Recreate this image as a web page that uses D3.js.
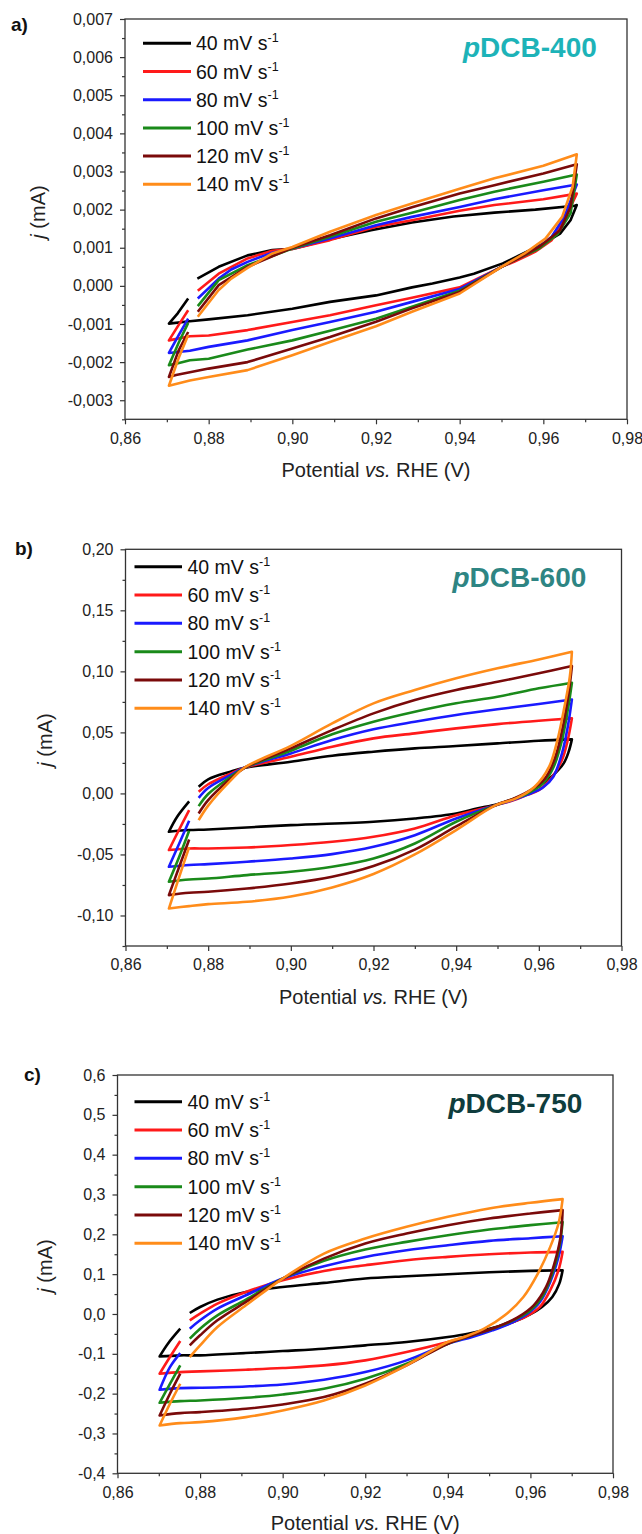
<!DOCTYPE html>
<html><head><meta charset="utf-8">
<script src="https://cdn.jsdelivr.net/npm/d3@7"></script>
<style>
body{margin:0;background:#fff}
svg{display:block}
text{font-family:"Liberation Sans",Arial,sans-serif}
</style>
</head><body>
<svg id="chart" width="642" height="1534"></svg>
<script>
// ---------------- DATA ----------------
const speeds = ["40", "60", "80", "100", "120", "140"];
const seriesColors = ["#000000", "#ff1a1a", "#1a1aff", "#1a8a1a", "#7a0a0a", "#ff8c1a"];
const xTicks = [0.86, 0.88, 0.90, 0.92, 0.94, 0.96, 0.98];
const panelLetters = ["a)", "b)", "c)"];
const sampleNames = ["DCB-400", "DCB-600", "DCB-750"];
const sampleColors = ["#1db3b8", "#2e8583", "#0f3d3d"];
const yTicksA = [-0.003, -0.002, -0.001, 0, 0.001, 0.002, 0.003, 0.004, 0.005, 0.006, 0.007];
const yTicksB = [-0.10, -0.05, 0, 0.05, 0.10, 0.15, 0.20];
const yTicksC = [-0.4, -0.3, -0.2, -0.1, 0, 0.1, 0.2, 0.3, 0.4, 0.5, 0.6];

// panel a) pDCB-400 : [potential V, current mA]
const a40 = [[0.8773,0.00019],[0.8824,0.0005],[0.8893,0.0008],[0.8952,0.00094],[0.90,0.00097],[0.909,0.00122],[0.9188,0.00146],[0.9286,0.00166],[0.9385,0.00182],[0.9483,0.00192],[0.9581,0.002],[0.9675,0.0021],[0.968,0.00212],
  [0.9665,0.00172],[0.964,0.00137],[0.96,0.00111],[0.9552,0.00085],[0.9503,0.00059],[0.9434,0.00032],[0.94,0.00022],[0.9335,0.00006],[0.9286,-0.00004],[0.92,-0.00025],[0.909,-0.00042],[0.90,-0.0006],[0.8893,-0.00077],[0.88,-0.00088],[0.8755,-0.00093],[0.8705,-0.00099],
  [0.8726,-0.00072],[0.8751,-0.00033]];
const a60 = [[0.8774,-0.00013],[0.8824,0.00032],[0.8893,0.00072],[0.8952,0.00092],[0.90,0.00097],[0.909,0.0012],[0.92,0.00155],[0.9286,0.00172],[0.94,0.00197],[0.9483,0.00212],[0.96,0.00227],[0.968,0.00242],
  [0.965,0.00172],[0.962,0.0012],[0.958,0.00089],[0.953,0.00063],[0.95,0.0005],[0.94,-0.00004],[0.9286,-0.00031],[0.92,-0.00051],[0.909,-0.00077],[0.90,-0.00095],[0.8893,-0.00116],[0.88,-0.0013],[0.8755,-0.00132],[0.8705,-0.00143],
  [0.8728,-0.00103],[0.8751,-0.00064]];
const a80 = [[0.8774,-0.00033],[0.8824,0.00019],[0.8854,0.00043],[0.8893,0.00063],[0.8952,0.00087],[0.90,0.00098],[0.909,0.00124],[0.92,0.00159],[0.9286,0.00181],[0.94,0.00207],[0.9483,0.00227],[0.96,0.00251],[0.968,0.00266],
  [0.965,0.00181],[0.962,0.00129],[0.958,0.00094],[0.953,0.00067],[0.95,0.0005],[0.94,-0.00008],[0.9286,-0.00042],[0.92,-0.00068],[0.909,-0.00095],[0.90,-0.00116],[0.8893,-0.00143],[0.88,-0.0016],[0.8755,-0.0017],[0.8705,-0.00176],
  [0.8728,-0.0013],[0.8751,-0.00086]];
const a100 = [[0.8774,-0.00053],[0.8824,0.00015],[0.8893,0.00054],[0.90,0.00098],[0.909,0.00129],[0.92,0.00168],[0.9286,0.00192],[0.94,0.00225],[0.9483,0.00247],[0.96,0.00273],[0.968,0.00292],
  [0.9665,0.0019],[0.9635,0.00137],[0.959,0.00098],[0.954,0.00072],[0.95,0.0005],[0.94,-0.00013],[0.9286,-0.00055],[0.92,-0.00086],[0.909,-0.00118],[0.90,-0.00143],[0.8893,-0.00167],[0.88,-0.00191],[0.8755,-0.00195],[0.8722,-0.00204],[0.8705,-0.00208],
  [0.8728,-0.0015],[0.8751,-0.00097]];
const a120 = [[0.8774,-0.00068],[0.8824,0.00002],[0.8893,0.0005],[0.90,0.001],[0.909,0.00133],[0.92,0.00177],[0.9286,0.00206],[0.94,0.00242],[0.9483,0.00264],[0.96,0.00295],[0.968,0.00319],
  [0.9665,0.00207],[0.964,0.00146],[0.959,0.00102],[0.954,0.00072],[0.95,0.0005],[0.94,-0.00016],[0.9286,-0.00059],[0.92,-0.00094],[0.909,-0.00134],[0.90,-0.00164],[0.8893,-0.002],[0.88,-0.00217],[0.8722,-0.00234],[0.8705,-0.00239],
  [0.8728,-0.0017],[0.8751,-0.00121]];
const a140 = [[0.8774,-0.00081],[0.8824,-0.00011],[0.8854,0.00019],[0.8893,0.00047],[0.8952,0.00085],[0.90,0.00102],[0.909,0.00142],[0.92,0.00186],[0.9286,0.00216],[0.94,0.00255],[0.9483,0.00282],[0.96,0.00315],[0.968,0.00345],
  [0.967,0.0026],[0.9645,0.00181],[0.9605,0.00124],[0.9555,0.00085],[0.95,0.0005],[0.94,-0.0002],[0.9286,-0.00068],[0.92,-0.00106],[0.909,-0.00147],[0.90,-0.00182],[0.8893,-0.00221],[0.88,-0.00239],[0.8755,-0.00248],[0.8705,-0.00262],
  [0.8728,-0.0019],[0.8751,-0.00129]];

// panel b) pDCB-600
const b40 = [[0.8777,0.0055],[0.88,0.0115],[0.8854,0.0178],[0.8888,0.021],[0.90,0.026],[0.91,0.0309],[0.92,0.0342],[0.93,0.0369],[0.94,0.0388],[0.95,0.041],[0.96,0.0432],[0.968,0.0443],
  [0.9672,0.034],[0.966,0.0246],[0.9635,0.015],[0.962,0.0109],[0.958,0.0014],[0.954,-0.0046],[0.9497,-0.009],[0.945,-0.0123],[0.94,-0.0164],[0.93,-0.0205],[0.92,-0.0232],[0.90,-0.026],[0.88,-0.0295],[0.8754,-0.030],[0.8705,-0.0314],
  [0.8725,-0.0191],[0.8754,-0.0065]];
const b60 = [[0.8777,0.0014],[0.88,0.0075],[0.8854,0.0162],[0.8888,0.021],[0.90,0.030],[0.91,0.0383],[0.92,0.0451],[0.93,0.0492],[0.94,0.0533],[0.95,0.0568],[0.96,0.0596],[0.968,0.0615],
  [0.967,0.0437],[0.9656,0.0273],[0.963,0.0123],[0.96,0.0027],[0.957,-0.0014],[0.954,-0.0055],[0.9496,-0.0096],[0.94,-0.0178],[0.93,-0.0287],[0.92,-0.0355],[0.91,-0.0396],[0.90,-0.0423],[0.8894,-0.0443],[0.88,-0.0451],[0.8754,-0.0451],[0.8705,-0.0464],
  [0.8725,-0.0328],[0.8754,-0.0137]];
const b80 = [[0.8777,-0.0036],[0.88,0.0045],[0.8854,0.015],[0.8888,0.0212],[0.90,0.0328],[0.91,0.0437],[0.92,0.0525],[0.93,0.0587],[0.94,0.0642],[0.95,0.0689],[0.96,0.0732],[0.968,0.077],
  [0.967,0.0546],[0.9656,0.0328],[0.9635,0.0137],[0.961,0.0049],[0.957,-0.0014],[0.953,-0.0063],[0.9496,-0.0096],[0.94,-0.0205],[0.93,-0.0342],[0.92,-0.0437],[0.91,-0.0497],[0.90,-0.0533],[0.8894,-0.056],[0.88,-0.0579],[0.8754,-0.0587],[0.8705,-0.0601],
  [0.873,-0.041],[0.8754,-0.0224]];
const b100 = [[0.8777,-0.0104],[0.88,-0.0005],[0.8854,0.0135],[0.8888,0.021],[0.90,0.035],[0.91,0.0484],[0.92,0.0587],[0.93,0.0669],[0.94,0.0738],[0.95,0.0792],[0.96,0.0861],[0.968,0.0907],
  [0.967,0.0683],[0.9656,0.0437],[0.9636,0.0219],[0.961,0.0082],[0.957,-0.0005],[0.953,-0.0055],[0.9496,-0.0096],[0.94,-0.0232],[0.93,-0.041],[0.92,-0.0533],[0.91,-0.0601],[0.90,-0.0642],[0.8894,-0.0669],[0.88,-0.0697],[0.8754,-0.0705],[0.8705,-0.0724],
  [0.873,-0.0519],[0.8754,-0.0306]];
const b120 = [[0.8777,-0.0164],[0.88,-0.0055],[0.8854,0.012],[0.8888,0.021],[0.90,0.0369],[0.91,0.0519],[0.92,0.0656],[0.93,0.0765],[0.94,0.0847],[0.95,0.0915],[0.96,0.0984],[0.968,0.1044],
  [0.9672,0.082],[0.9658,0.0546],[0.964,0.030],[0.9615,0.0123],[0.958,0.0027],[0.954,-0.0041],[0.9496,-0.0096],[0.94,-0.027],[0.93,-0.046],[0.92,-0.0595],[0.91,-0.0683],[0.90,-0.0738],[0.8894,-0.0779],[0.88,-0.0806],[0.8754,-0.0814],[0.8705,-0.0833],
  [0.873,-0.0601],[0.8754,-0.0377]];
const b140 = [[0.8777,-0.0219],[0.88,-0.010],[0.8854,0.0105],[0.8888,0.0212],[0.90,0.039],[0.91,0.0574],[0.92,0.0738],[0.93,0.0847],[0.94,0.0943],[0.95,0.1025],[0.96,0.1098],[0.968,0.1161],
  [0.9675,0.0956],[0.9662,0.071],[0.9645,0.0437],[0.9625,0.0219],[0.959,0.0055],[0.9545,-0.0041],[0.9496,-0.0096],[0.94,-0.030],[0.93,-0.050],[0.92,-0.066],[0.91,-0.077],[0.90,-0.0845],[0.8894,-0.0888],[0.88,-0.0907],[0.8754,-0.0923],[0.8705,-0.0943],
  [0.873,-0.0683],[0.8754,-0.044]];

// panel c) pDCB-750
const c40 = [[0.8775,0.0025],[0.88,0.0176],[0.8842,0.036],[0.8911,0.0553],[0.90,0.0679],[0.91,0.078],[0.92,0.0889],[0.93,0.0947],[0.94,0.0997],[0.95,0.1048],[0.96,0.1081],[0.9678,0.1098],
  [0.967,0.0763],[0.9653,0.0427],[0.9628,0.0176],[0.9598,-0.0017],[0.9558,-0.0201],[0.9508,-0.0352],[0.9449,-0.0495],[0.94,-0.0578],[0.93,-0.0704],[0.92,-0.0788],[0.91,-0.0872],[0.90,-0.093],[0.8911,-0.0981],[0.88,-0.1039],[0.8752,-0.1039],[0.8702,-0.1065],
  [0.8722,-0.0746],[0.8752,-0.0369]];
const c60 = [[0.8775,-0.0159],[0.88,0.0008],[0.8842,0.026],[0.8911,0.0553],[0.90,0.0847],[0.91,0.1081],[0.92,0.1224],[0.93,0.135],[0.94,0.1433],[0.95,0.15],[0.96,0.1542],[0.9678,0.1559],
  [0.9668,0.1098],[0.9648,0.0595],[0.9623,0.0176],[0.9588,-0.0075],[0.9548,-0.0243],[0.9498,-0.0411],[0.9449,-0.0562],[0.94,-0.0704],[0.93,-0.0956],[0.92,-0.1165],[0.91,-0.1291],[0.90,-0.1358],[0.8911,-0.14],[0.88,-0.1442],[0.8752,-0.1459],[0.8702,-0.15],
  [0.8727,-0.1081],[0.8752,-0.0679]];
const c80 = [[0.8775,-0.0369],[0.88,-0.0159],[0.8842,0.0134],[0.8911,0.0469],[0.90,0.0889],[0.91,0.1199],[0.92,0.1433],[0.93,0.1601],[0.94,0.1727],[0.95,0.1836],[0.96,0.1903],[0.9678,0.1953],
  [0.9668,0.1433],[0.9648,0.0805],[0.9623,0.0302],[0.9593,0.0008],[0.9553,-0.0226],[0.9508,-0.0411],[0.9459,-0.0578],[0.94,-0.0746],[0.93,-0.1165],[0.92,-0.1459],[0.91,-0.1651],[0.90,-0.1769],[0.8911,-0.1819],[0.88,-0.1852],[0.8752,-0.1861],[0.8702,-0.1903],
  [0.8727,-0.1333],[0.8752,-0.0981]];
const c100 = [[0.8775,-0.062],[0.88,-0.0369],[0.8842,-0.0034],[0.8911,0.036],[0.90,0.0889],[0.91,0.1333],[0.92,0.1618],[0.93,0.1811],[0.94,0.1978],[0.95,0.2121],[0.96,0.223],[0.9678,0.2305],
  [0.967,0.1685],[0.9653,0.1014],[0.9628,0.0427],[0.9598,0.0075],[0.9558,-0.0159],[0.9508,-0.0369],[0.9459,-0.0536],[0.94,-0.0746],[0.93,-0.1249],[0.92,-0.1626],[0.91,-0.1878],[0.90,-0.202],[0.8911,-0.2104],[0.88,-0.2171],[0.8752,-0.2188],[0.8702,-0.223],
  [0.8727,-0.1752],[0.8752,-0.1291]];
const c120 = [[0.8775,-0.0788],[0.88,-0.0536],[0.8842,-0.0159],[0.8911,0.0302],[0.90,0.0889],[0.91,0.1391],[0.92,0.1769],[0.93,0.202],[0.94,0.223],[0.95,0.2397],[0.96,0.2523],[0.9678,0.2607],
  [0.9673,0.1936],[0.9658,0.1266],[0.9638,0.0679],[0.9608,0.0218],[0.9568,-0.0092],[0.9518,-0.0327],[0.9459,-0.0536],[0.94,-0.0746],[0.93,-0.1291],[0.92,-0.1752],[0.91,-0.2087],[0.90,-0.2272],[0.8911,-0.2381],[0.88,-0.2464],[0.8752,-0.249],[0.8702,-0.2548],
  [0.8727,-0.2003],[0.8752,-0.15]];
const c140 = [[0.8775,-0.1081],[0.88,-0.0788],[0.8842,-0.0327],[0.8911,0.0218],[0.90,0.0889],[0.91,0.1517],[0.92,0.1894],[0.93,0.2188],[0.94,0.2439],[0.95,0.2649],[0.96,0.2791],[0.9678,0.2884],
  [0.9668,0.2272],[0.9648,0.1685],[0.9618,0.1014],[0.9583,0.0427],[0.9538,-0.0034],[0.9488,-0.0369],[0.9439,-0.0578],[0.94,-0.0704],[0.93,-0.1291],[0.92,-0.1794],[0.91,-0.2171],[0.90,-0.2422],[0.8911,-0.259],[0.88,-0.2716],[0.8752,-0.2741],[0.8702,-0.28],
  [0.8727,-0.2255],[0.8752,-0.1752]];

// ---------------- LAYOUT ----------------
const panels = [
  {series:[a40,a60,a80,a100,a120,a140], yDomain:[-0.0035,0.007], yTicks:yTicksA, yMinorStep:0.0005, yFmt:".3f",
   left:125, right:627, top:19, bottom:419.3, smooth:false,
   letter:{x:11, y:31}, name:{x:463, y:56.5}, legend:{x0:143, x1:191, tx:196, y0:43.3, dy:28.2},
   xTitleY:477, yTitle:{x:45, y:212}},
  {series:[b40,b60,b80,b100,b120,b140], yDomain:[-0.125,0.2], yTicks:yTicksB, yMinorStep:0.025, yFmt:".2f",
   left:125.5, right:621.5, top:549.3, bottom:946, smooth:true,
   letter:{x:15, y:555}, name:{x:452.5, y:587}, legend:{x0:134.5, x1:182, tx:187.5, y0:566.7, dy:28.33},
   xTitleY:1004, yTitle:{x:52, y:740}},
  {series:[c40,c60,c80,c100,c120,c140], yDomain:[-0.4,0.6], yTicks:yTicksC, yMinorStep:0.05, yFmt:".1f",
   left:117.5, right:613, top:1075, bottom:1473.3, smooth:true,
   letter:{x:24, y:1081}, name:{x:448.5, y:1112.5}, legend:{x0:134.5, x1:182, tx:187.5, y0:1101.7, dy:28.33},
   xTitleY:1530, yTitle:{x:52, y:1266}}
];

const locale = d3.formatLocale({decimal:",", thousands:".", grouping:[3], currency:["",""], minus:"-"});
const svg = d3.select("#chart");
const axisColor = "#333";
const FONT = '"Liberation Sans",Arial,sans-serif';

// split a sweep at its two vertices so that smoothing keeps sharp corners
function sweepPath(data, line) {
  let iMax = d3.maxIndex(data, d => d[0]);
  let iMin = iMax + d3.minIndex(data.slice(iMax), d => d[0]);
  const parts = [data.slice(0, iMax + 1), data.slice(iMax, iMin + 1), data.slice(iMin)];
  return parts.map((pt, k) => {
    const d = line(pt);
    return k === 0 ? d : "L" + d.slice(1);
  }).join("");
}

panels.forEach((p, pi) => {
  const g = svg.append("g");
  const x = d3.scaleLinear().domain([0.86, 0.98]).range([p.left, p.right]);
  const y = d3.scaleLinear().domain(p.yDomain).range([p.bottom, p.top]);
  const xf = locale.format(".2f"), yf = locale.format(p.yFmt);

  // minor ticks
  const xMinor = d3.range(0.87, 0.98, 0.02);
  const yMinor = d3.range(Math.ceil(p.yDomain[0]/p.yMinorStep), Math.floor(p.yDomain[1]/p.yMinorStep)+1)
      .map(k => k*p.yMinorStep).filter(v => !p.yTicks.some(t => Math.abs(t-v) < p.yMinorStep/4));
  g.append("g").attr("transform", `translate(0,${p.bottom})`)
    .call(d3.axisBottom(x).tickValues(xMinor).tickSize(3).tickFormat(""))
    .call(s => { s.select(".domain").remove(); s.selectAll("line").attr("stroke", axisColor).attr("stroke-width", 1.2); });
  g.append("g").attr("transform", `translate(${p.left},0)`)
    .call(d3.axisLeft(y).tickValues(yMinor).tickSize(3).tickFormat(""))
    .call(s => { s.select(".domain").remove(); s.selectAll("line").attr("stroke", axisColor).attr("stroke-width", 1.2); });

  // major ticks
  g.append("g").attr("transform", `translate(0,${p.bottom})`)
    .call(d3.axisBottom(x).tickValues(xTicks).tickSize(5).tickPadding(8).tickFormat(xf))
    .call(s => { s.select(".domain").remove();
      s.selectAll("line").attr("stroke", axisColor).attr("stroke-width", 1.2);
      s.selectAll("text").attr("font-size", 16).attr("fill", "#222").attr("font-family", FONT); });
  g.append("g").attr("transform", `translate(${p.left},0)`)
    .call(d3.axisLeft(y).tickValues(p.yTicks).tickSize(5).tickPadding(7).tickFormat(yf))
    .call(s => { s.select(".domain").remove();
      s.selectAll("line").attr("stroke", axisColor).attr("stroke-width", 1.2);
      s.selectAll("text").attr("font-size", 16).attr("fill", "#222").attr("font-family", FONT); });

  // frame
  g.append("rect").attr("x", p.left).attr("y", p.top)
    .attr("width", p.right - p.left).attr("height", p.bottom - p.top)
    .attr("fill", "none").attr("stroke", axisColor).attr("stroke-width", 1.3);

  // curves
  const line = d3.line().x(d => x(d[0])).y(d => y(d[1]))
    .curve(p.smooth ? d3.curveCatmullRom.alpha(0.5) : d3.curveLinear);
  p.series.forEach((data, si) => {
    g.append("path").attr("d", sweepPath(data, line))
      .attr("fill", "none").attr("stroke", seriesColors[si])
      .attr("stroke-width", 2.6).attr("stroke-linejoin", "round").attr("stroke-linecap", "butt");
  });

  // legend
  speeds.forEach((s, si) => {
    const ly = p.legend.y0 + si * p.legend.dy;
    g.append("line").attr("x1", p.legend.x0).attr("x2", p.legend.x1).attr("y1", ly).attr("y2", ly)
      .attr("stroke", seriesColors[si]).attr("stroke-width", 3);
    const t = g.append("text").attr("x", p.legend.tx).attr("y", ly + 7)
      .attr("font-size", 19.5).attr("fill", "#111");
    t.append("tspan").text(s + " mV s");
    t.append("tspan").attr("dy", -8).attr("font-size", 12.5).text("-1");
  });

  // sample name
  const nm = g.append("text").attr("x", p.name.x).attr("y", p.name.y)
    .attr("font-size", 28).attr("font-weight", "bold").attr("fill", sampleColors[pi]);
  nm.append("tspan").attr("font-style", "italic").text("p");
  nm.append("tspan").text(sampleNames[pi]);

  // panel letter
  g.append("text").attr("x", p.letter.x).attr("y", p.letter.y)
    .attr("font-size", 19).attr("font-weight", "bold").attr("fill", "#111").text(panelLetters[pi]);

  // x title
  const xt = g.append("text").attr("x", (p.left + p.right) / 2).attr("y", p.xTitleY)
    .attr("text-anchor", "middle").attr("font-size", 20).attr("fill", "#222");
  xt.append("tspan").text("Potential ");
  xt.append("tspan").attr("font-style", "italic").text("vs.");
  xt.append("tspan").text(" RHE (V)");

  // y title
  const yt = g.append("text").attr("transform", `translate(${p.yTitle.x},${p.yTitle.y}) rotate(-90)`)
    .attr("text-anchor", "middle").attr("font-size", 20).attr("fill", "#222");
  yt.append("tspan").attr("font-style", "italic").text("j");
  yt.append("tspan").text(" (mA)");
});
</script>
</body></html>
